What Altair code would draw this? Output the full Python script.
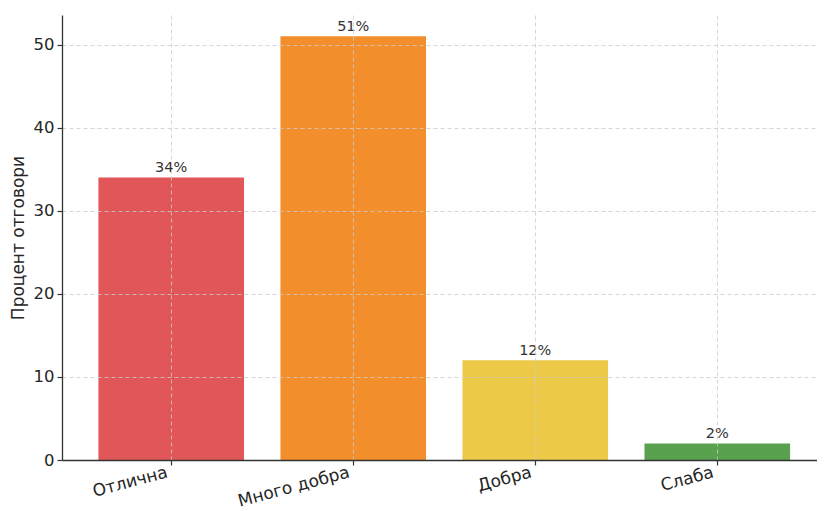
import altair as alt
import pandas as pd

categories = ["Отлична", "Много добра", "Добра", "Слаба"]
values = [34, 51, 12, 2]
labels = ["34%", "51%", "12%", "2%"]
colors = ["#E15759", "#F28E2B", "#EDC948", "#59A14F"]

df = pd.DataFrame({"cat": categories, "val": values, "lab": labels})

FONT = "DejaVu Sans"

x = alt.X("cat:N", sort=categories, title=None,
          scale=alt.Scale(paddingInner=0.2, paddingOuter=0.174, align=0.575),
          axis=alt.Axis(labelAngle=345, labelAlign="right", labelBaseline="top",
                        labelFontSize=17, labelColor="#262626", labelFont=FONT,
                        labelPadding=-1, labelOffset=-6,
                        grid=True, gridDash=[4, 3], gridColor="#cccccc", gridWidth=0.8,
                        domainColor="#333333", domainWidth=1.3,
                        tickColor="#333333", tickSize=5, tickWidth=1.2,
                        bandPosition=0.5, zindex=1))

y = alt.Y("val:Q", title="Процент отговори",
          scale=alt.Scale(domain=[0, 53.55], nice=False, zero=True),
          axis=alt.Axis(values=[0, 10, 20, 30, 40, 50], labelFontSize=16.5,
                        labelColor="#262626", labelFont=FONT, labelPadding=3,
                        titleFont=FONT, titleFontSize=17, titleColor="#262626",
                        titleFontWeight="normal", titlePadding=6,
                        grid=True, gridDash=[4, 3], gridColor="#cccccc", gridWidth=0.8,
                        domainColor="#333333", domainWidth=1.3,
                        tickColor="#333333", tickSize=5, tickWidth=1.2, zindex=1))

bars = alt.Chart(df).mark_bar().encode(
    x=x, y=y,
    color=alt.Color("cat:N", sort=categories,
                    scale=alt.Scale(domain=categories, range=colors), legend=None),
)

text = alt.Chart(df).mark_text(dy=-9, fontSize=14.5, font=FONT, color="#333333").encode(
    x=alt.X("cat:N", sort=categories), y=alt.Y("val:Q"), text="lab:N"
)

chart = (bars + text).properties(
    width=755, height=445,
    autosize=alt.AutoSizeParams(type="none"),
    padding={"left": 62, "top": 15, "right": 0, "bottom": 50},
).configure(background="white").configure_view(stroke="transparent", strokeWidth=0)

chart.save("out.html", embed_options={"renderer": "svg", "actions": False})
